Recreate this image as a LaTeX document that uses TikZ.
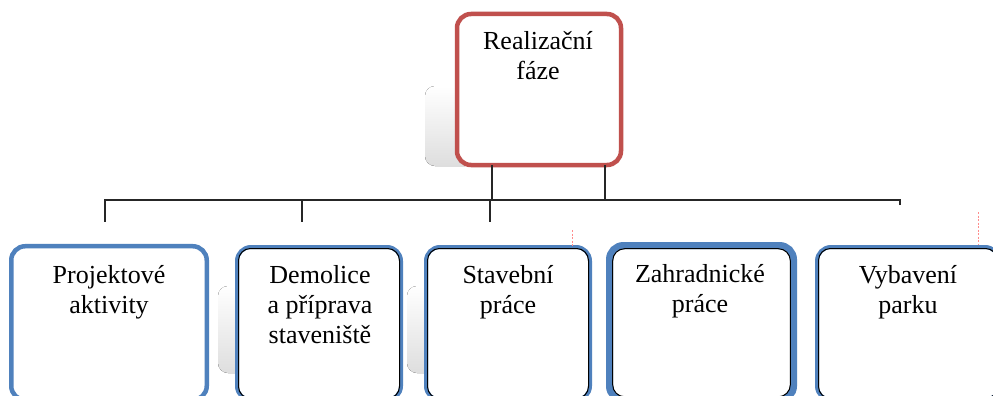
\documentclass[tikz,border=0pt]{standalone}
\usepackage{fontspec}
\setmainfont{Liberation Serif}
\usetikzlibrary{calc}
\definecolor{accentred}{HTML}{C0504D}
\definecolor{accentblue}{HTML}{4F81BD}
\newcommand{\linesof}[1]{\begin{tabular}[t]{@{}c@{}}#1\end{tabular}}

\begin{document}
\begin{tikzpicture}[x=1pt,y=-1pt,
  phasebox/.style={draw=accentred, line width=4.5pt, rounded corners=14pt,
    fill=white, inner sep=0pt, outer sep=0pt},
  taskbox/.style={draw=accentblue, line width=4pt, rounded corners=14pt,
    fill=white, inner sep=0pt, outer sep=0pt},
  rim/.style={draw=black, line width=1pt, rounded corners=12pt},
  haze/.style={top color=white, bottom color=black!13, draw=none, rounded corners=10pt},
  link/.style={draw=black!85, line width=1.2pt},
  caption/.style={anchor=base, inner sep=0pt, font=\fontsize{26}{30}\selectfont},
  glitch/.style={draw=red!45, line width=0.6pt, dash pattern=on 2pt off 1.5pt}]

\useasboundingbox[fill=white] (0,0) rectangle (993,396);

% soft shadows behind some of the boxes
\fill[haze] (425,86) rectangle (475,166);
\fill[haze] (218,286) rectangle (255,373);
\fill[haze] (407,286) rectangle (440,373);

% bus points
\coordinate (busW) at (105,200);
\coordinate (busE) at (900,200);
\coordinate (jA) at (492,200);
\coordinate (jB) at (605,200);
\coordinate (e1) at (105,222);
\coordinate (e2) at (302,222);
\coordinate (e3) at (490,222);
\coordinate (eE) at (900,205);

% top phase box
\node[phasebox, minimum width=164pt, minimum height=151pt] (top) at (539,89.5) {};

% connectors
\draw[link] (jA |- top.south) -- (jA);
\draw[link] (jB |- top.south) -- (jB);
\draw[link] (eE) -- (busE) -- (busW) -- (e1);
\draw[link] (e2 |- busW) -- (e2);
\draw[link] (e3 |- busW) -- (e3);

% task boxes (their lower part runs off the page)
\node[taskbox, line width=4.5pt, minimum width=195.5pt, minimum height=153.75pt] (b1) at (109,323.1) {};
\node[taskbox, minimum width=164pt, minimum height=153pt] (b2) at (319,323.5) {};
\node[taskbox, minimum width=164pt, minimum height=153pt] (b3) at (508,323.5) {};
\node[taskbox, line width=7pt, minimum width=184pt, minimum height=154.5pt] (b4) at (701.5,322.75) {};
\node[taskbox, minimum width=182pt, minimum height=153pt] (b5) at (908,323.5) {};

% dark inner rims
\draw[rim] ($(b2.north west)+(1.5,1.5)$) rectangle ($(b2.south east)+(-1.5,-1.5)$);
\draw[rim] ($(b3.north west)+(1.5,1.5)$) rectangle ($(b3.south east)+(-1.5,-1.5)$);
\draw[rim] ($(b4.north west)+(3.2,3.2)$) rectangle ($(b4.south east)+(-3.2,-3.2)$);
\draw[rim] ($(b5.north west)+(1.5,1.5)$) rectangle ($(b5.south east)+(-1.5,-1.5)$);

% faint marks above two boxes
\draw[glitch] (572,230) -- (572,246);
\draw[glitch] (978,212) -- (978,244);

% labels
\node[caption] (t0) at (538,50) {\linesof{Realizační\\fáze}};
\node[caption] (t1) at (109,283) {\linesof{Projektové\\aktivity}};
\node[caption] (t2) at (320,283) {\linesof{Demolice\\a příprava\\staveniště}};
\node[caption] (t3) at (508,283) {\linesof{Stavební\\práce}};
\node[caption] (t4) at (700,282) {\linesof{Zahradnické\\práce}};
\node[caption] (t5) at (908,283) {\linesof{Vybavení\\parku}};
\end{tikzpicture}
\end{document}
